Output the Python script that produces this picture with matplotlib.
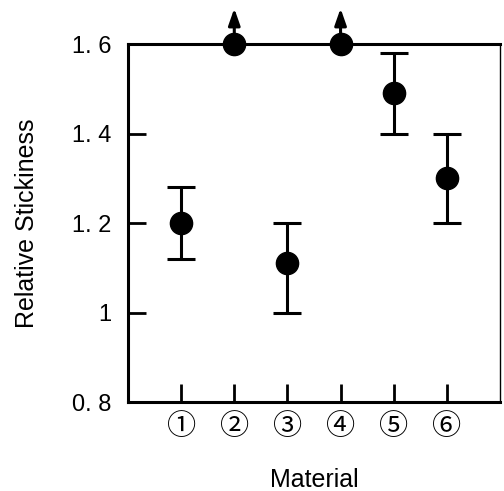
import matplotlib
matplotlib.use("Agg")
import matplotlib.pyplot as plt

# data
materials = ["①", "②", "③", "④", "⑤", "⑥"]
stickiness = [1.20, 1.60, 1.11, 1.60, 1.49, 1.30]
err_low = [1.12, None, 1.00, None, 1.40, 1.20]
err_high = [1.28, None, 1.20, None, 1.58, 1.40]
off_scale = [False, True, False, True, False, False]
y_ticks = [0.8, 1.0, 1.2, 1.4, 1.6]
y_tick_labels = ["0. 8", "1", "1. 2", "1. 4", "1. 6"]

plt.rcParams['font.family'] = ['Liberation Sans', 'DejaVu Sans']

fig = plt.figure(figsize=(5.04, 4.91), dpi=100)
ax = fig.add_axes([0.254, 0.181, 0.738, 0.729])

xs = list(range(1, len(materials) + 1))

# points with error bars
for x, y, lo, hi, off in zip(xs, stickiness, err_low, err_high, off_scale):
    if off:
        ax.plot(x, y, 'o', color='black', markersize=16, clip_on=False, zorder=5)
        # value runs past the top of the axis -> arrow up
        ax.annotate("", xy=(x, y + 0.08), xytext=(x, y),
                    arrowprops=dict(arrowstyle="-|>,head_length=1.0,head_width=0.35",
                                    color='black', lw=2.2, shrinkA=0, shrinkB=0),
                    annotation_clip=False)
    else:
        ax.errorbar(x, y, yerr=[[y - lo], [hi - y]], fmt='o', color='black',
                    markersize=16, elinewidth=2.2, capsize=10, capthick=2.2, zorder=4)

ax.set_xlim(0, 7)
ax.set_ylim(0.8, 1.6)
ax.set_xticks(xs)
ax.set_xticklabels(materials, family=['Noto Sans CJK JP', 'DejaVu Sans'], fontsize=21)
ax.set_yticks(y_ticks)
ax.set_yticklabels(y_tick_labels, fontsize=17)

ax.tick_params(axis='both', direction='in', length=13, width=2, color='black')
ax.tick_params(axis='y', pad=12)
ax.tick_params(axis='x', pad=7)

for side in ['left', 'top', 'bottom']:
    ax.spines[side].set_linewidth(2.2)
ax.spines['right'].set_linewidth(1)

ax.set_ylabel("Relative Stickiness", fontsize=18, labelpad=24)
ax.set_xlabel("Material", fontsize=18, labelpad=19)

fig.savefig("out.png", dpi=100)
